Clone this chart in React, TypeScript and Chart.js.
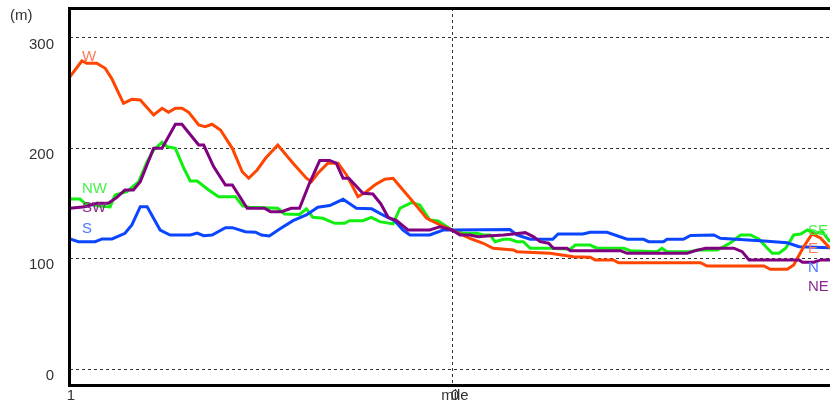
import React, { useEffect, useRef } from "react";
import { Chart, registerables } from "chart.js";
Chart.register(...registerables);

// distance (mile, negative = first direction) and elevation (m)
const DIST_WE = [-1, -0.969, -0.956, -0.930, -0.908, -0.891, -0.860, -0.838, -0.816, -0.781, -0.759, -0.742, -0.724, -0.707, -0.689, -0.663, -0.646, -0.628, -0.606, -0.575, -0.549, -0.532, -0.510, -0.488, -0.456, -0.416, -0.381, -0.368, -0.351, -0.325, -0.298, -0.276, -0.246, -0.224, -0.202, -0.176, -0.154, -0.132, -0.102, -0.066, -0.031, 0, 0.047, 0.082, 0.108, 0.161, 0.170, 0.257, 0.318, 0.362, 0.375, 0.423, 0.436, 0.493, 0.651, 0.668, 0.817, 0.834, 0.878, 0.895, 0.921, 0.943, 0.965, 0.99];
const ELEV_WE = [264.5, 278.7, 276.6, 276.6, 272.1, 263.0, 240.4, 244.0, 243.4, 229.8, 235.9, 232.2, 235.9, 235.9, 232.2, 220.7, 219.2, 221.4, 216.2, 199.6, 178.4, 172.5, 180.0, 190.6, 202.6, 186.1, 172.5, 169.4, 177.0, 186.1, 186.1, 175.5, 155.8, 160.3, 166.4, 171.6, 172.5, 163.4, 151.3, 136.2, 130.2, 125.6, 118.1, 113.6, 109.1, 107.5, 106.0, 104.5, 101.4, 100.9, 98.5, 98.5, 96.0, 96.0, 96.0, 93.0, 93.0, 90.0, 90.0, 93.9, 110.5, 122.0, 118.4, 109.1];

const DIST_NWSE = [-1, -0.974, -0.961, -0.924, -0.895, -0.882, -0.851, -0.820, -0.798, -0.781, -0.759, -0.746, -0.724, -0.702, -0.685, -0.667, -0.637, -0.611, -0.567, -0.548, -0.530, -0.456, -0.438, -0.399, -0.381, -0.364, -0.338, -0.307, -0.281, -0.268, -0.233, -0.211, -0.189, -0.154, -0.136, -0.106, -0.084, -0.058, -0.036, 0, 0.030, 0.065, 0.082, 0.100, 0.113, 0.135, 0.152, 0.170, 0.187, 0.205, 0.257, 0.310, 0.323, 0.362, 0.380, 0.450, 0.467, 0.537, 0.550, 0.563, 0.625, 0.642, 0.695, 0.730, 0.756, 0.782, 0.804, 0.826, 0.839, 0.856, 0.874, 0.895, 0.913, 0.931, 0.953, 0.970, 0.99];
const ELEV_NWSE = [153.7, 153.7, 149.8, 147.4, 146.5, 157.3, 160.3, 169.4, 187.5, 198.1, 205.1, 201.1, 199.6, 181.5, 170.0, 170.0, 161.9, 155.8, 155.8, 147.4, 146.2, 145.3, 140.1, 139.7, 144.7, 137.1, 136.2, 131.7, 131.7, 134.1, 134.1, 137.1, 133.2, 131.1, 145.3, 150.4, 148.3, 134.7, 133.8, 125.6, 122.6, 122.6, 121.1, 121.1, 115.0, 117.2, 117.2, 115.0, 115.0, 109.1, 109.1, 108.2, 112.0, 112.0, 109.1, 109.1, 106.9, 106.0, 109.1, 106.0, 106.0, 107.5, 107.5, 114.1, 121.1, 121.1, 117.2, 109.1, 104.5, 104.5, 109.1, 121.1, 122.0, 125.6, 122.6, 124.1, 114.8];

const DIST_SWNE = [-1, -0.961, -0.930, -0.900, -0.878, -0.856, -0.834, -0.816, -0.781, -0.759, -0.724, -0.707, -0.663, -0.650, -0.624, -0.593, -0.575, -0.536, -0.491, -0.475, -0.446, -0.421, -0.399, -0.373, -0.346, -0.320, -0.303, -0.285, -0.270, -0.233, -0.207, -0.186, -0.167, -0.145, -0.115, -0.058, -0.031, 0, 0.021, 0.047, 0.069, 0.091, 0.135, 0.161, 0.192, 0.213, 0.231, 0.253, 0.266, 0.301, 0.310, 0.441, 0.459, 0.616, 0.638, 0.664, 0.738, 0.760, 0.778, 0.909, 0.918, 0.948, 0.966, 0.99];
const ELEV_SWNE = [145.3, 146.7, 149.8, 149.8, 154.9, 161.9, 161.9, 169.4, 199.6, 199.6, 221.4, 221.4, 202.6, 202.6, 183.0, 166.4, 166.4, 145.3, 145.3, 142.2, 142.2, 145.3, 145.3, 167.9, 188.6, 188.6, 186.1, 172.5, 172.5, 158.9, 158.2, 149.2, 137.1, 134.1, 125.6, 125.6, 128.6, 125.6, 121.1, 121.1, 119.6, 120.2, 121.1, 122.0, 123.2, 119.6, 115.0, 113.6, 109.1, 109.1, 106.9, 106.9, 104.5, 104.5, 106.9, 109.1, 109.1, 106.0, 98.5, 98.5, 96.4, 96.4, 98.5, 98.5];

const DIST_SN = [-1, -0.978, -0.934, -0.916, -0.890, -0.856, -0.838, -0.816, -0.798, -0.764, -0.738, -0.685, -0.667, -0.650, -0.628, -0.593, -0.575, -0.541, -0.514, -0.499, -0.478, -0.451, -0.416, -0.381, -0.351, -0.320, -0.285, -0.250, -0.210, -0.176, -0.150, -0.128, -0.110, -0.058, -0.023, 0, 0.152, 0.170, 0.205, 0.264, 0.278, 0.343, 0.362, 0.406, 0.459, 0.502, 0.515, 0.554, 0.563, 0.606, 0.625, 0.686, 0.703, 0.817, 0.878, 0.909, 0.99];
const ELEV_SN = [117.5, 115.0, 115.0, 117.5, 117.5, 122.6, 130.2, 146.7, 146.7, 125.6, 121.1, 121.1, 122.9, 120.5, 121.1, 127.7, 127.7, 124.1, 123.6, 121.1, 120.2, 126.5, 134.1, 139.2, 146.2, 147.8, 153.4, 145.3, 144.8, 138.3, 134.1, 125.6, 121.1, 121.1, 125.6, 125.6, 126.1, 121.1, 117.2, 117.2, 122.0, 122.0, 123.6, 123.6, 117.2, 117.2, 115.0, 115.0, 117.2, 117.2, 120.7, 121.1, 118.1, 115.7, 114.1, 110.5, 109.6];

const Y_TICKS = [0, 100, 200, 300];
const X_TICKS = [-1, 0];
const Y_UNIT = "(m)";
const X_TITLE = "mile";

// profiles, drawn in this order (first on top)
const PROFILES = [
  { start: "SW", end: "NE", dist: DIST_SWNE, elev: ELEV_SWNE, color: "#800080", label: "#8e2a8e" },
  { start: "W", end: "E", dist: DIST_WE, elev: ELEV_WE, color: "#ff4500", label: "#ff7a5c" },
  { start: "S", end: "N", dist: DIST_SN, elev: ELEV_SN, color: "#0a46ff", label: "#4a78ff" },
  { start: "NW", end: "SE", dist: DIST_NWSE, elev: ELEV_NWSE, color: "#11ee11", label: "#4cee4c" },
];
// label layout (pixel rows)
const LABEL_ROW_LEFT = [208, 57, 229, 189];
const LABEL_ROW_RIGHT = [287, 249, 268, 231];

const FONT = '15px "Liberation Sans", Arial, sans-serif';
const TEXT = "#333";

const decor = {
  id: "decor",
  beforeDatasetsDraw(chart: any) {
    const { ctx, chartArea: a, scales } = chart;
    const x = scales.x, y = scales.y;
    ctx.save();
    ctx.strokeStyle = "#333";
    ctx.lineWidth = 1;
    ctx.setLineDash([3, 3]);
    for (const v of Y_TICKS) {
      const py = Math.round(y.getPixelForValue(v)) + 0.5;
      ctx.beginPath();
      ctx.moveTo(a.left, py);
      ctx.lineTo(a.right, py);
      ctx.stroke();
    }
    const px = Math.round(x.getPixelForValue(0)) + 0.5;
    ctx.beginPath();
    ctx.moveTo(px, a.top);
    ctx.lineTo(px, a.bottom);
    ctx.stroke();
    ctx.restore();
  },
  afterDatasetsDraw(chart: any) {
    const { ctx, chartArea: a, scales } = chart;
    const x = scales.x, y = scales.y;
    ctx.save();
    ctx.fillStyle = "#000";
    const L = Math.round(a.left) - 2;
    ctx.fillRect(L, Math.round(a.top) - 1, a.right - L, 3);
    ctx.fillRect(L, Math.round(a.bottom) - 2, a.right - L, 3);
    ctx.fillRect(L, Math.round(a.top) - 1, 3, a.bottom - a.top + 2);

    ctx.font = FONT;
    ctx.textBaseline = "middle";
    ctx.textAlign = "left";
    PROFILES.forEach((p, i) => {
      ctx.fillStyle = p.label;
      ctx.fillText(p.start, a.left + 12, LABEL_ROW_LEFT[i]);
      ctx.fillText(p.end, a.right - 22, LABEL_ROW_RIGHT[i]);
    });

    ctx.fillStyle = TEXT;
    ctx.fillText(Y_UNIT, 10, 16);
    ctx.textAlign = "right";
    Y_TICKS.forEach((v) => {
      ctx.fillText(String(v), a.left - 16, y.getPixelForValue(v) + 7);
    });
    ctx.textAlign = "center";
    X_TICKS.forEach((v) => {
      const px = x.getPixelForValue(v);
      ctx.fillText(String(Math.abs(v)), v === 0 ? px + 3 : px + 1, a.bottom + 10);
    });
    ctx.fillText(X_TITLE, x.getPixelForValue(0) + 3, a.bottom + 10);
    ctx.restore();
  },
};

export default function App() {
  const ref = useRef<HTMLCanvasElement>(null);
  useEffect(() => {
    const chart = new Chart(ref.current as HTMLCanvasElement, {
      type: "line",
      data: {
        datasets: PROFILES.map((p) => ({
          label: p.start + "-" + p.end,
          data: p.dist.map((d, i) => ({ x: d, y: p.elev[i] })),
          borderColor: p.color,
          backgroundColor: p.color,
          borderWidth: 3,
          pointRadius: 0,
          tension: 0,
          fill: false,
        })),
      },
      options: {
        animation: false,
        responsive: false,
        devicePixelRatio: 1,
        layout: { padding: { top: 8, left: 0, right: 0, bottom: 0 } },
        plugins: { legend: { display: false }, tooltip: { enabled: false } },
        scales: {
          x: {
            type: "linear",
            min: -1,
            max: 0.99,
            grid: { display: false },
            border: { display: false },
            ticks: { display: false },
            afterFit: (s: any) => { s.height = 18; s.paddingLeft = 0; s.paddingRight = 0; },
          },
          y: {
            type: "linear",
            min: -15.7,
            max: 326.7,
            grid: { display: false },
            border: { display: false },
            ticks: { display: false },
            afterFit: (s: any) => { s.width = 70; s.paddingTop = 0; s.paddingBottom = 0; },
          },
        },
      },
      plugins: [decor],
    });
    return () => chart.destroy();
  }, []);
  return (
    <div style={{ position: "fixed", left: 0, top: 0, width: 830, height: 404, background: "#fff" }}>
      <canvas ref={ref} width={830} height={404} style={{ display: "block", width: 830, height: 404 }} />
    </div>
  );
}
